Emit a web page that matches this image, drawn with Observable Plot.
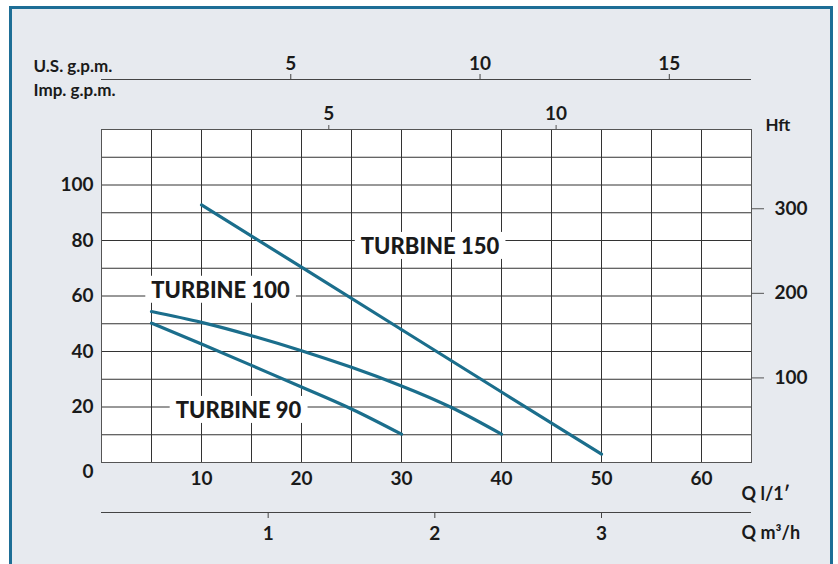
<!DOCTYPE html>
<html>
<head>
<meta charset="utf-8">
<script src="https://cdn.jsdelivr.net/npm/d3@7"></script>
<script src="https://cdn.jsdelivr.net/npm/@observablehq/plot@0.6"></script>
<style>
  body { margin: 0; background: #ffffff; }
  #wrap { position: relative; width: 838px; height: 564px; overflow: hidden; }
  #panel { position: absolute; left: 9px; top: 6px; width: 818px; height: 570px;
           border: 3px solid #1e6e96; border-bottom: none; background: #e7eaef; }
  #chart { position: absolute; left: 0; top: 0; }
</style>
</head>
<body>
<div id="wrap"><div id="panel"></div><div id="chart"></div></div>
<script>
// ---- data (Q in l/min, H in m) ----
const t90Q  = [5, 10, 15, 20, 25, 30];
const t90H  = [50.2, 42.7, 35.0, 27.2, 19.3, 10.2];
const t100Q = [5, 10, 15, 20, 25, 30, 35, 40];
const t100H = [54.4, 50.5, 45.7, 40.3, 34.3, 27.6, 19.8, 10.2];
const t150Q = [10, 20, 30, 40, 50];
const t150H = [92.8, 70.4, 47.9, 25.4, 3.0];

const seriesNames = ["TURBINE 90", "TURBINE 100", "TURBINE 150"];
const labelQ = [13.7, 11.9, 32.85];
const labelH = [18.6, 61.9, 77.7];

// tick labels
const qTicks = [10, 20, 30, 40, 50, 60];        // l/min
const hTicks = [20, 40, 60, 80, 100];           // m
const hZero = [0];
const hftTicks = [100, 200, 300];               // ft
const usGpmTicks = [5, 10, 15];
const impGpmTicks = [5, 10];
const m3hTicks = [1, 2, 3];

// unit conversions
const US_GAL = 3.78541, IMP_GAL = 4.54609, FT = 3.28084, M3H = 1000 / 60;

const curves = [
  ...t90Q.map((q, i) => ({q, h: t90H[i], s: seriesNames[0]})),
  ...t100Q.map((q, i) => ({q, h: t100H[i], s: seriesNames[1]})),
  ...t150Q.map((q, i) => ({q, h: t150H[i], s: seriesNames[2]}))
];
const labels = seriesNames.map((s, i) => ({s, q: labelQ[i], h: labelH[i]}));

const ink = "#1a1a1a";
const grid = "#333333";
const curveColor = "#1b6e8c";
const fs = 19;

const chart = Plot.plot({
  width: 838,
  height: 564,
  marginLeft: 101,
  marginRight: 87,
  marginTop: 129,
  marginBottom: 102,
  style: {background: "transparent", fontFamily: "Lato, 'Open Sans', sans-serif", fontWeight: "bold", color: ink},
  x: {domain: [0, 65]},
  y: {domain: [0, 120]},
  marks: [
    Plot.frame({fill: "white"}),
    Plot.ruleX(d3.range(0, 66, 5), {stroke: grid, strokeWidth: 1}),
    Plot.ruleY(d3.range(0, 121, 10), {stroke: grid, strokeWidth: 1}),
    Plot.frame({stroke: "#555"}),
    Plot.text(labels, {x: "q", y: "h", text: "s", fontSize: 22, fontWeight: 900, fill: ink}),
    Plot.line(curves, {x: "q", y: "h", z: "s", curve: "natural", stroke: curveColor, strokeWidth: 3.2}),
    // bottom Q l/min axis
    Plot.axisX(qTicks, {anchor: "bottom", tickSize: 0, tickPadding: 9, fontSize: fs, label: null, fill: ink}),
    // left H (m) axis
    Plot.axisY(hTicks, {anchor: "left", tickSize: 0, tickPadding: 8, fontSize: fs, label: null, fill: ink}),
    Plot.text(hZero, {x: 0, y: d => d, dx: -8, dy: 9, textAnchor: "end", fontSize: fs, fill: ink, text: d => String(d)}),
    // right H ft axis
    Plot.ruleY(hftTicks, {y: d => d / FT, x1: 65, x2: 66.3, stroke: "#555"}),
    Plot.text(hftTicks, {x: 65, y: d => d / FT, dx: 56, textAnchor: "end", fontSize: fs, fill: ink, text: d => String(d)}),
    Plot.text(["Hft"], {frameAnchor: "top-right", lineAnchor: "middle", dx: 14, dy: -4, textAnchor: "start", fontSize: 17, fill: ink}),
    // top Imp gpm axis
    Plot.axisX(impGpmTicks.map(d => d * IMP_GAL), {anchor: "top", tickSize: 5, tickPadding: 5, fontSize: fs, label: null,
      tickFormat: d => String(Math.round(d / IMP_GAL)), stroke: "#555", fill: ink}),
    // top US gpm axis
    Plot.ruleY([120], {dy: -50, stroke: "#444", strokeWidth: 1.2}),
    Plot.axisX(usGpmTicks.map(d => d * US_GAL), {anchor: "top", dy: -50, tickSize: 6, tickPadding: 4, fontSize: fs, label: null,
      tickFormat: d => String(Math.round(d / US_GAL)), stroke: "#444", fill: ink}),
    Plot.text(["U.S. g.p.m."], {frameAnchor: "top-left", lineAnchor: "middle", dx: -68, dy: -63, textAnchor: "start", fontSize: 17, fill: ink}),
    Plot.text(["Imp. g.p.m."], {frameAnchor: "top-left", lineAnchor: "middle", dx: -68, dy: -39, textAnchor: "start", fontSize: 17, fill: ink}),
    // bottom m3/h axis
    Plot.ruleY([0], {dy: 50, stroke: "#444", strokeWidth: 1.2}),
    Plot.axisX(m3hTicks.map(d => d * M3H), {anchor: "bottom", dy: 50, tickSize: 6, tickPadding: 8, fontSize: fs, label: null,
      tickFormat: d => String(Math.round(d / M3H)), stroke: "#444", fill: ink}),
    Plot.text(["Q l/1\u2032"], {frameAnchor: "bottom-right", lineAnchor: "middle", dx: -10, dy: 32, textAnchor: "start", fontSize: 18, fill: ink}),
    Plot.text(["Q m\u00b3/h"], {frameAnchor: "bottom-right", lineAnchor: "middle", dx: -10, dy: 71, textAnchor: "start", fontSize: 18, fill: ink})
  ]
});
document.getElementById("chart").appendChild(chart);

// white knockout boxes behind the series labels (sized from the rendered text)
const NS = "http://www.w3.org/2000/svg";
chart.querySelectorAll("text").forEach(t => {
  if (!seriesNames.includes(t.textContent.trim())) return;
  const b = t.getBBox();
  const r = document.createElementNS(NS, "rect");
  r.setAttribute("x", b.x - 6);
  r.setAttribute("y", b.y);
  r.setAttribute("width", b.width + 12);
  r.setAttribute("height", b.height);
  r.setAttribute("fill", "white");
  r.setAttribute("stroke", "none");
  const tr = t.getAttribute("transform");
  if (tr) r.setAttribute("transform", tr);
  t.parentNode.insertBefore(r, t);
});
</script>
</body>
</html>
